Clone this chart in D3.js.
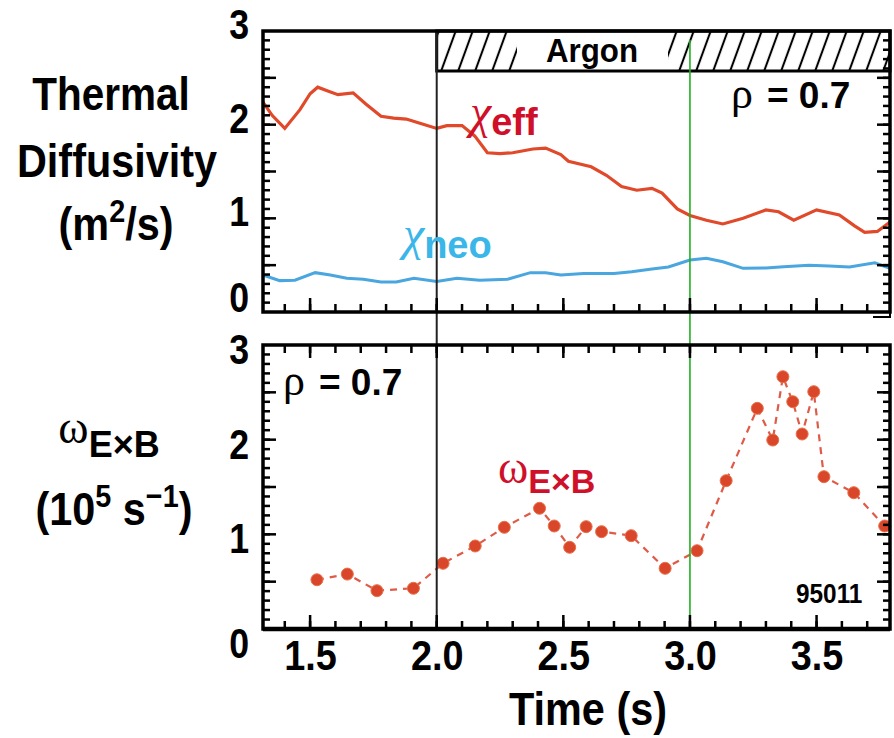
<!DOCTYPE html>
<html>
<head>
<meta charset="utf-8">
<script src="https://cdnjs.cloudflare.com/ajax/libs/d3/7.8.5/d3.min.js"></script>
<style>
  body { margin: 0; background: #fff; overflow: hidden; }
  svg { display: block; }
  text { font-family: "Liberation Sans", Arial, sans-serif; }
  .greek { font-family: "Liberation Serif", "DejaVu Serif", serif; font-weight: normal; }
</style>
</head>
<body>
<div id="chart"></div>
<script>
// chi_eff trace (top panel)
const effTime = [1.314, 1.35, 1.40, 1.46, 1.50, 1.53, 1.57, 1.61, 1.67, 1.72, 1.78, 1.83, 1.88, 1.94, 2.00,
  2.04, 2.10, 2.15, 2.20, 2.25, 2.30, 2.38, 2.43, 2.49, 2.52, 2.61, 2.67, 2.73, 2.79, 2.85, 2.89, 2.95,
  3.00, 3.065, 3.13, 3.21, 3.30, 3.35, 3.41, 3.50, 3.59, 3.65, 3.69, 3.74, 3.79];
const effValue = [2.24, 2.10, 1.96, 2.16, 2.33, 2.40, 2.36, 2.32, 2.34, 2.22, 2.09, 2.07, 2.06, 2.01, 1.96,
  1.99, 1.99, 1.88, 1.70, 1.69, 1.70, 1.74, 1.75, 1.68, 1.61, 1.55, 1.46, 1.34, 1.30, 1.32, 1.27, 1.10,
  1.03, 0.98, 0.94, 1.00, 1.09, 1.07, 0.98, 1.09, 1.035, 0.92, 0.85, 0.86, 0.96];

// chi_neo trace (top panel)
const neoTime = [1.314, 1.38, 1.44, 1.52, 1.58, 1.645, 1.71, 1.78, 1.84, 1.91, 2.00, 2.08, 2.17, 2.28, 2.37,
  2.43, 2.49, 2.58, 2.70, 2.77, 2.85, 2.915, 3.00, 3.065, 3.13, 3.21, 3.30, 3.37, 3.47, 3.55, 3.63, 3.73, 3.79];
const neoValue = [0.395, 0.335, 0.34, 0.42, 0.395, 0.36, 0.35, 0.32, 0.32, 0.36, 0.325, 0.36, 0.34, 0.35, 0.42,
  0.42, 0.395, 0.41, 0.41, 0.43, 0.46, 0.48, 0.555, 0.573, 0.537, 0.466, 0.47, 0.484, 0.50, 0.49, 0.48, 0.526, 0.466];

// omega_ExB points (bottom panel)
const omegaTime = [1.527, 1.647, 1.764, 1.908, 2.025, 2.152, 2.267, 2.406, 2.464, 2.525, 2.590, 2.651, 2.768,
  2.902, 3.028, 3.143, 3.266, 3.327, 3.367, 3.406, 3.443, 3.489, 3.529, 3.647, 3.769];
const omegaValue = [0.52, 0.58, 0.405, 0.43, 0.694, 0.877, 1.074, 1.275, 1.088, 0.863, 1.081, 1.028, 0.986,
  0.641, 0.827, 1.567, 2.331, 1.996, 2.665, 2.401, 2.06, 2.507, 1.609, 1.44, 1.088];

const xMajor = [1.5, 2.0, 2.5, 3.0, 3.5];
const xLabels = ["1.5", "2.0", "2.5", "3.0", "3.5"];
const yLabels = [0, 1, 2, 3];
const argonStart = 2.0, argonEnd = 3.0;

const W = 894, H = 738;
const svg = d3.select("#chart").append("svg").attr("width", W).attr("height", H);

const x = d3.scaleLinear().domain([1.314, 3.79]).range([263, 890]);
const yTop = d3.scaleLinear().domain([0, 3]).range([312, 31]);
const yBot = d3.scaleLinear().domain([0, 3]).range([629, 345]);

// squeeze text horizontally (the original uses a condensed face)
function squeeze(sel, k) {
  sel.each(function () {
    const n = this.getComputedTextLength();
    if (n > 0) d3.select(this).attr("textLength", n * k).attr("lengthAdjust", "spacingAndGlyphs");
  });
}
function label(cx, cy, k) {
  return svg.append("g").attr("transform", `translate(${cx},${cy}) scale(${k},1)`);
}

// hatch pattern
const defs = svg.append("defs");
defs.append("pattern").attr("id", "hatch").attr("patternUnits", "userSpaceOnUse")
  .attr("width", 17).attr("height", 17).attr("patternTransform", "skewX(-20)")
  .append("line").attr("x1", 8).attr("x2", 8).attr("y1", -1).attr("y2", 18)
  .attr("stroke", "#000").attr("stroke-width", 2.2);

const minorX = d3.range(14, 38).map(d => d / 10);
const minorY = d3.range(1, 30).map(d => d / 10);
const majorY = d3.range(1, 6).map(d => d / 2);

// top panel curves
const lineTop = d3.line().x(d => x(d[0])).y(d => yTop(d[1]));
svg.append("path").datum(d3.zip(neoTime, neoValue)).attr("d", lineTop)
  .attr("fill", "none").attr("stroke", "#4aa6df").attr("stroke-width", 3);
svg.append("path").datum(d3.zip(effTime, effValue)).attr("d", lineTop)
  .attr("fill", "none").attr("stroke", "#e0492a").attr("stroke-width", 3.2);

// bottom panel: dashed line with dots
const omega = d3.zip(omegaTime, omegaValue);
svg.append("path").datum(omega)
  .attr("d", d3.line().x(d => x(d[0])).y(d => yBot(d[1])))
  .attr("fill", "none").attr("stroke", "#e05a48").attr("stroke-width", 2.2)
  .attr("stroke-dasharray", "7,6");
svg.selectAll("circle.dot").data(omega).enter().append("circle").attr("class", "dot")
  .attr("cx", d => x(d[0])).attr("cy", d => yBot(d[1])).attr("r", 6)
  .attr("fill", "#d9462a").attr("stroke", "#e8704a").attr("stroke-width", 1);

// Argon box
const aY0 = yTop(3), aY1 = 71;
svg.append("rect").attr("x", x(argonStart)).attr("y", aY0).attr("width", x.range()[1] - x(argonStart))
  .attr("height", aY1 - aY0).attr("fill", "#fff");
svg.append("rect").attr("x", x(argonStart)).attr("y", aY0).attr("width", 517 - x(argonStart))
  .attr("height", aY1 - aY0).attr("fill", "url(#hatch)");
svg.append("rect").attr("x", 668).attr("y", aY0).attr("width", x.range()[1] - 668)
  .attr("height", aY1 - aY0).attr("fill", "url(#hatch)");
svg.append("rect").attr("x", x(argonStart)).attr("y", aY0).attr("width", x.range()[1] - x(argonStart))
  .attr("height", aY1 - aY0).attr("fill", "none").attr("stroke", "#000").attr("stroke-width", 3);
label(592, 62, 0.92).append("text").attr("text-anchor", "middle").attr("font-size", 34)
  .attr("font-weight", "bold").text("Argon");

// vertical markers
svg.append("line").attr("x1", x(argonStart)).attr("x2", x(argonStart)).attr("y1", aY0).attr("y2", 629)
  .attr("stroke", "#222").attr("stroke-width", 2);
svg.append("line").attr("x1", x(argonEnd)).attr("x2", x(argonEnd)).attr("y1", 40).attr("y2", 629)
  .attr("stroke", "#22b022").attr("stroke-width", 1.6);

// y titles
label(111, 110, 0.88).append("text").attr("text-anchor", "middle")
  .attr("font-size", 46).attr("font-weight", "bold").text("Thermal");
label(117, 177, 0.9).append("text").attr("text-anchor", "middle")
  .attr("font-size", 46).attr("font-weight", "bold").text("Diffusivity");
const t3 = label(116, 240, 0.9).append("text").attr("text-anchor", "middle")
  .attr("font-size", 46).attr("font-weight", "bold");
t3.append("tspan").text("(m");
t3.append("tspan").attr("font-size", 32).attr("dy", -18).text("2");
t3.append("tspan").attr("dy", 18).text("/s)");

const w1 = label(109, 443, 1).append("text").attr("text-anchor", "middle");
w1.append("tspan").attr("class", "greek").attr("font-size", 46).text("ω");
w1.append("tspan").attr("font-size", 36).attr("font-weight", "bold").attr("dy", 14).text("E×B");
const w2 = label(114, 525, 0.9).append("text").attr("text-anchor", "middle")
  .attr("font-size", 46).attr("font-weight", "bold");
w2.append("tspan").text("(10");
w2.append("tspan").attr("font-size", 32).attr("dy", -18).text("5");
w2.append("tspan").attr("dy", 18).text(" s");
w2.append("tspan").attr("font-size", 32).attr("dy", -18).text("−1");
w2.append("tspan").attr("dy", 18).text(")");

// x title
label(588, 725, 0.9).append("text").attr("text-anchor", "middle")
  .attr("font-size", 46).attr("font-weight", "bold").text("Time (s)");

// in-plot labels
const ce = svg.append("text").attr("x", 470).attr("y", 128).attr("fill", "#d0102a");
ce.append("tspan").attr("class", "greek").attr("font-style", "italic").attr("font-size", 48).text("χ");
ce.append("tspan").attr("font-size", 38).attr("font-weight", "bold").attr("dy", 7).text("eff");
const cn = svg.append("text").attr("x", 403).attr("y", 250).attr("fill", "#3ab6e8");
cn.append("tspan").attr("class", "greek").attr("font-style", "italic").attr("font-size", 48).text("χ");
cn.append("tspan").attr("font-size", 38).attr("font-weight", "bold").attr("dy", 8).text("neo");

function rho(xp, yp) {
  const r = svg.append("text").attr("x", xp).attr("y", yp);
  r.append("tspan").attr("class", "greek").attr("font-size", 44).text("ρ");
  r.append("tspan").attr("font-size", 37).attr("font-weight", "bold").attr("dx", 14).text("= 0.7");
}
rho(731, 108);
rho(283, 395);

const wo = svg.append("text").attr("x", 498).attr("y", 483).attr("fill", "#d0102a");
wo.append("tspan").attr("class", "greek").attr("font-size", 46).text("ω");
wo.append("tspan").attr("font-size", 34).attr("font-weight", "bold").attr("dy", 10).text("E×B");

label(796, 603, 0.87).append("text").attr("font-size", 28).attr("font-weight", "bold").text("95011");

// axes last, so nothing paints over them
function drawAxes(y, withXLabels, topTicks, labelShift) {
  const b = y.range()[0], t = y.range()[1];
  const l = x.range()[0], r = x.range()[1];
  const ax = svg.append("g").attr("class", "axes");

  // inward tick marks as filled rects, placed with the scales
  const tw = 2.5;
  const xt = [];
  minorX.forEach(v => xt.push({ v, len: 8, edge: b, dir: -1 }));
  xMajor.forEach(v => xt.push({ v, len: 14, edge: b, dir: -1 }));
  if (topTicks) {
    minorX.forEach(v => xt.push({ v, len: 8, edge: t, dir: 1 }));
    xMajor.forEach(v => xt.push({ v, len: 13, edge: t, dir: 1 }));
  }
  ax.selectAll("rect.xt").data(xt).enter().append("rect").attr("class", "xt")
    .attr("x", d => x(d.v) - tw / 2).attr("width", tw)
    .attr("y", d => d.dir < 0 ? d.edge - d.len : d.edge).attr("height", d => d.len)
    .attr("fill", "#000");
  const yt = [];
  minorY.forEach(v => { yt.push({ v, len: 7, edge: l, dir: 1 }); yt.push({ v, len: 7, edge: r, dir: -1 }); });
  majorY.forEach(v => { yt.push({ v, len: 13, edge: l, dir: 1 }); yt.push({ v, len: 13, edge: r, dir: -1 }); });
  ax.selectAll("rect.yt").data(yt).enter().append("rect").attr("class", "yt")
    .attr("y", d => y(d.v) - tw / 2).attr("height", tw)
    .attr("x", d => d.dir > 0 ? d.edge : d.edge - d.len).attr("width", d => d.len)
    .attr("fill", "#000");

  // labels through d3 axes
  const gx = ax.append("g").attr("transform", `translate(0,${b})`)
    .call(d3.axisBottom(x).tickValues(xMajor).tickSize(0).tickPadding(11)
      .tickFormat((d, i) => withXLabels ? xLabels[i] : ""));
  gx.selectAll("text").attr("font-size", 42).attr("font-weight", "bold").attr("fill", "#000");
  squeeze(gx.selectAll("text"), 0.9);
  const gy = ax.append("g").attr("transform", `translate(${l},0)`)
    .call(d3.axisLeft(y).tickValues(yLabels).tickSize(0).tickPadding(14).tickFormat(d3.format("d")));
  gy.selectAll("text").attr("font-size", 42).attr("font-weight", "bold").attr("fill", "#000")
    .attr("transform", d => `translate(0,${labelShift(d)})`);
  squeeze(gy.selectAll("text"), 0.85);
  ax.selectAll(".domain").remove();

  ax.append("rect").attr("x", l).attr("y", t).attr("width", r - l).attr("height", b - t)
    .attr("fill", "none").attr("stroke", "#000").attr("stroke-width", 3.5);
}

drawAxes(yTop, false, false, d => d === 0 ? -14 : -6);
drawAxes(yBot, true, true, d => d === 0 ? 15 : 5);
svg.append("path").attr("d", "M890,312V317M873,317H891")
  .attr("fill", "none").attr("stroke", "#000").attr("stroke-width", 2);
svg.append("line").attr("x1", x.range()[0]).attr("x2", x.range()[1]).attr("y1", 629).attr("y2", 629)
  .attr("stroke", "#000").attr("stroke-width", 4.5);
</script>
</body>
</html>
